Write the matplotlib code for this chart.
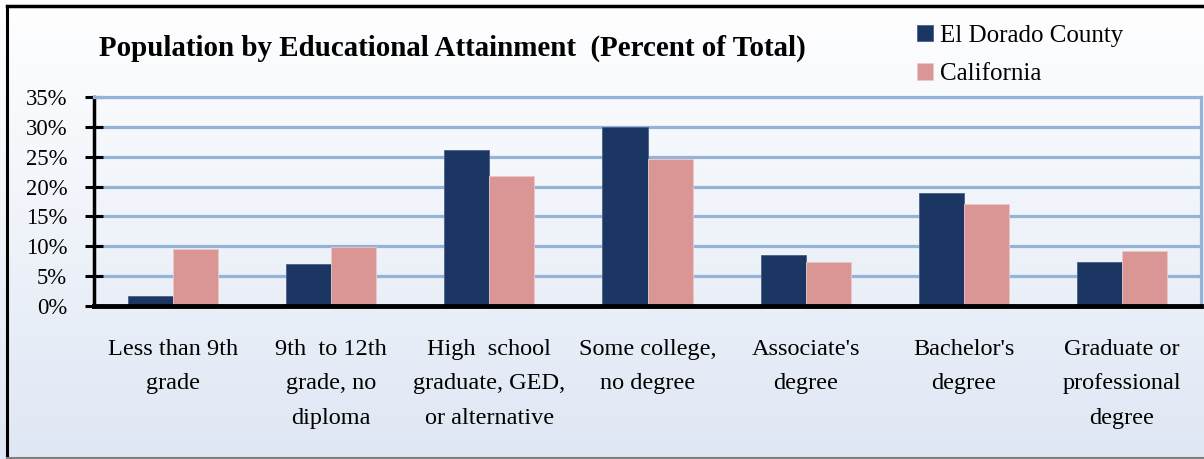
import numpy as np
import matplotlib
matplotlib.use("Agg")
import matplotlib.pyplot as plt
from matplotlib.lines import Line2D
from matplotlib.ticker import PercentFormatter

categories = ["Less than 9th\ngrade", "9th  to 12th\ngrade, no\ndiploma",
              "High  school\ngraduate, GED,\nor alternative", "Some college,\nno degree",
              "Associate's\ndegree", "Bachelor's\ndegree", "Graduate or\nprofessional\ndegree"]
el_dorado = [1.6, 7.0, 26.2, 30.0, 8.6, 19.0, 7.3]
california = [9.5, 9.9, 21.8, 24.6, 7.3, 17.1, 9.2]
series_names = ["El Dorado County", "California"]
yticks = [0, 5, 10, 15, 20, 25, 30, 35]

plt.rcParams['font.family'] = ['Liberation Serif', 'DejaVu Serif']

W, H = 1204, 459
fig = plt.figure(figsize=(W / 100, H / 100), dpi=100)

# background gradient
bg = fig.add_axes([0, 0, 1, 1], zorder=-10)
grad = np.linspace(0, 1, 256).reshape(-1, 1)
top = np.array([1.0, 1.0, 1.0])
bot = np.array([0xdf, 0xe7, 0xf4]) / 255.0
img = top[None, None, :] * (1 - grad[:, :, None]) + bot[None, None, :] * grad[:, :, None]
bg.imshow(img, aspect='auto', extent=[0, 1, 0, 1], origin='upper')
bg.set_axis_off()

ax = fig.add_axes([94 / W, 1 - 306 / H, (1201 - 94) / W, (306 - 97) / H])
ax.patch.set_alpha(0)

x = np.arange(len(categories))
w = 0.285
ax.bar(x - w / 2, el_dorado, w, color='#1c3664', edgecolor='#4a6088', linewidth=0.6,
       label=series_names[0], zorder=3)
ax.bar(x + w / 2, california, w, color='#d99694', edgecolor='#ecc8c7', linewidth=0.6,
       label=series_names[1], zorder=3)

ax.set_xlim(-0.5, len(categories) - 0.5)
ax.set_ylim(0, 35)
ax.set_yticks(yticks)
ax.yaxis.set_major_formatter(PercentFormatter(decimals=0))
ax.yaxis.grid(True, color='#95b3d7', linewidth=2.3, zorder=1)
ax.set_axisbelow(True)

ax.set_xticks(x)
ax.set_xticklabels(categories, fontsize=17.5, linespacing=1.82)
ax.tick_params(axis='x', length=0, pad=24)
ax.tick_params(axis='y', direction='inout', length=12.5, width=2.2, labelsize=16.3, pad=13)

for s in ['top', 'right']:
    ax.spines[s].set_color('#95b3d7')
    ax.spines[s].set_linewidth(2.3)
ax.spines['left'].set_color('black')
ax.spines['left'].set_linewidth(2.5)
ax.spines['bottom'].set_color('black')
ax.spines['bottom'].set_linewidth(3.5)
ax.spines['bottom'].set_zorder(5)

fig.text(452 / W, 1 - 48 / H, "Population by Educational Attainment  (Percent of Total)",
         fontsize=20.9, fontweight='bold', ha='center', va='center')

fig.legend(loc='upper left', bbox_to_anchor=(917 / W, 1 - 25 / H), frameon=False,
           fontsize=18, handlelength=0.62, handleheight=0.62, handletextpad=0.3,
           labelspacing=0.65, borderpad=0, borderaxespad=0)

# figure border
fig.add_artist(Line2D([7 / W, 7 / W], [0, 1 - 6 / H], color='black', linewidth=2.2,
                      transform=fig.transFigure))
fig.add_artist(Line2D([7 / W, 1], [1 - 6 / H, 1 - 6 / H], color='black', linewidth=2.5,
                      transform=fig.transFigure))
fig.add_artist(Line2D([7 / W, 1], [1 / H, 1 / H], color='#7f7f7f', linewidth=1.5,
                      transform=fig.transFigure))

fig.savefig("out.png", dpi=100)
